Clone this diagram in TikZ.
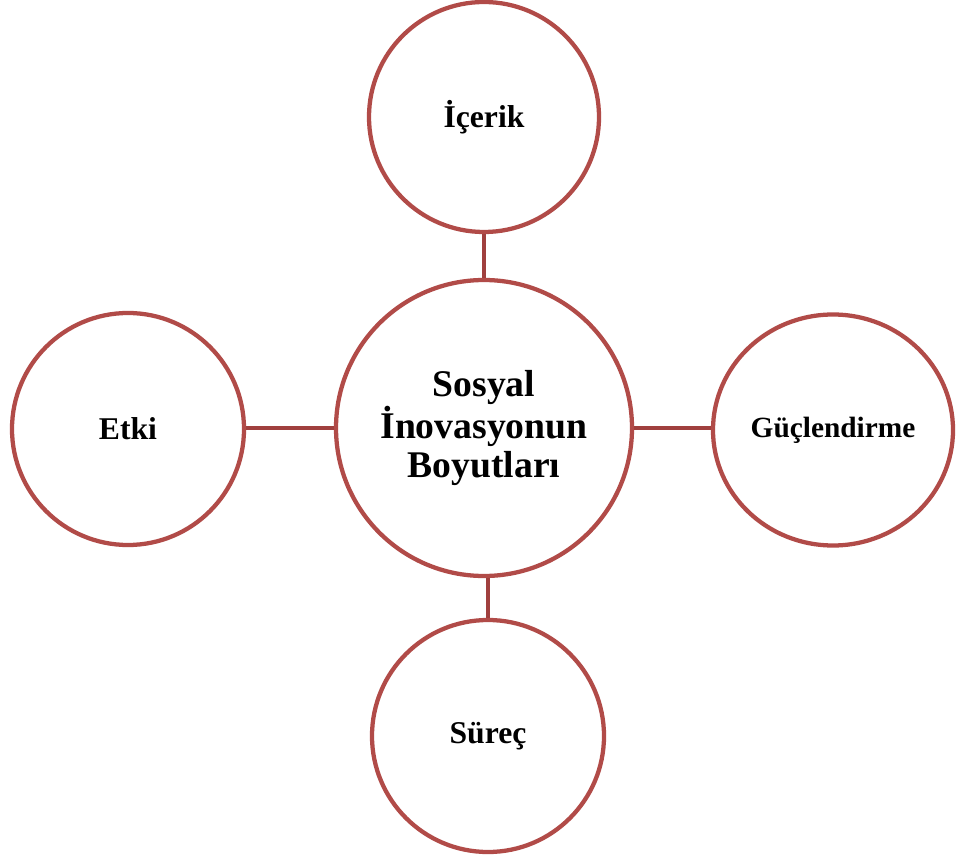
\documentclass[tikz,border=0pt]{standalone}
\usepackage{fontspec}
\setmainfont{Liberation Serif}
\usetikzlibrary{shapes.geometric}
\definecolor{ringred}{RGB}{177,75,72}
\definecolor{linkred}{RGB}{160,64,62}
\begin{document}
\begin{tikzpicture}[x=0.75pt,y=-0.75pt,
  ring/.style={circle,draw=ringred,line width=3.2pt,fill=white,inner sep=0pt,
    align=center,font=\bfseries\fontsize{23.75pt}{28pt}\selectfont},
  link/.style={draw=linkred,line width=3.2pt}]
\useasboundingbox (0,0) rectangle (956,862);
% hub
\node[ring,minimum size=296*0.75pt,
  font=\bfseries\fontsize{28.25pt}{29pt}\selectfont] (hub) at (484,428)
  {Sosyal\\İnovasyonun\\Boyutları};
% satellites
\node[ring,minimum size=230*0.75pt] (content) at (484,117) {İçerik};
\node[ring,minimum size=232*0.75pt] (impact) at (128,429) {Etki};
\node[ring,ellipse,minimum width=240*0.75pt,minimum height=231*0.75pt,
  font=\bfseries\fontsize{22pt}{26pt}\selectfont] (power) at (833,430) {Güçlendirme};
\node[ring,minimum size=232*0.75pt] (process) at (488,736) {Süreç};
% links
\path[link] (content.south) -- (hub.north);
\path[link] (impact.east |- hub.west) -- (hub.west);
\path[link] (hub.east) -- (hub.east -| power.west);
\path[link] (process.north) -- (process.north |- hub.south);
\end{tikzpicture}
\end{document}
